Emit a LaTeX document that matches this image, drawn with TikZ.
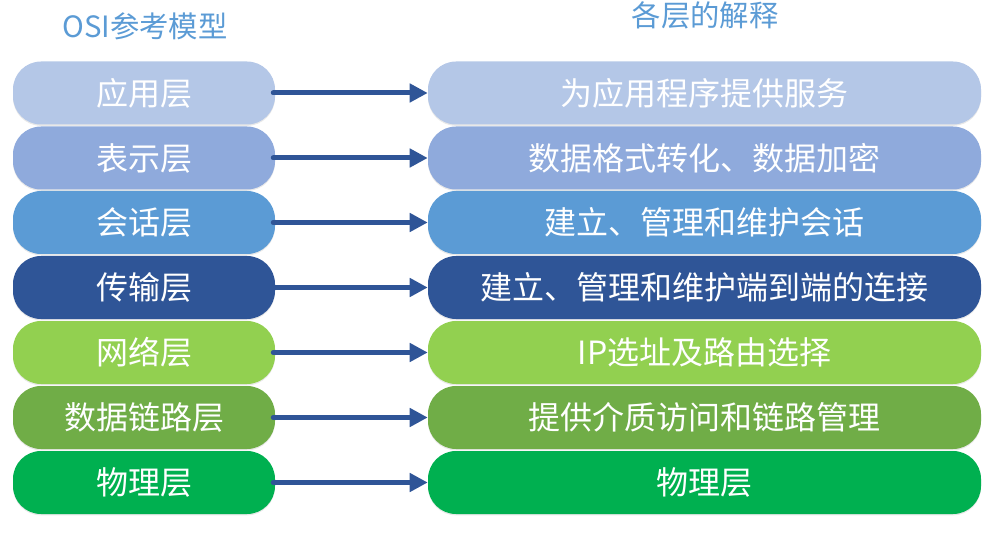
\documentclass[tikz,border=0pt]{standalone}
\usepackage{fontspec}
\setmainfont{Noto Sans CJK SC}
\usetikzlibrary{arrows.meta,shadows}

\definecolor{layerA}{RGB}{180,199,231}
\definecolor{layerB}{RGB}{143,170,220}
\definecolor{layerC}{RGB}{91,155,213}
\definecolor{layerD}{RGB}{47,85,151}
\definecolor{layerE}{RGB}{146,208,80}
\definecolor{layerF}{RGB}{112,173,71}
\definecolor{layerG}{RGB}{0,176,80}
\definecolor{titleblue}{RGB}{91,155,213}

\tikzset{
  layerbox/.style={rounded corners=21pt, minimum height=47.25pt, inner sep=0pt,
    text=white, font=\fontsize{24}{28}\selectfont,
    drop shadow={opacity=0.18, shadow xshift=0pt, shadow yshift=-1pt}},
  leftbox/.style={layerbox, minimum width=196.5pt},
  rightbox/.style={layerbox, minimum width=414.75pt},
  maparrow/.style={color=layerD, line width=3.75pt, line cap=round,
    -{Triangle[length=13.5pt,width=13.5pt]}},
  headtext/.style={text=titleblue, font=\fontsize{22}{26}\selectfont, inner sep=0pt}
}

\begin{document}
\begin{tikzpicture}[x=0.75pt,y=0.75pt,yscale=-1,xscale=1]
\useasboundingbox (0,0) rectangle (995,538);

% Titles
\node [headtext] (titleL) at (145,26) {OSI参考模型};
\node [headtext] (titleR) at (705,15) {各层的解释};

% Layers and their meanings
\foreach \n/\c/\y/\lt/\rt in {
    1/layerA/93/应用层/为应用程序提供服务,
    2/layerB/158/表示层/数据格式转化、数据加密,
    3/layerC/222.5/会话层/建立、管理和维护会话,
    4/layerD/287.5/传输层/建立、管理和维护端到端的连接,
    5/layerE/352.5/网络层/IP选址及路由选择,
    6/layerF/417.5/数据链路层/提供介质访问和链路管理,
    7/layerG/482.5/物理层/物理层} {
  \node [leftbox, fill=\c] (L\n) at (144,\y) {\lt};
  \node [rightbox, fill=\c] (R\n) at (704.5,\y) {\rt};
  \draw [maparrow] ([xshift=-1.5pt]L\n.east) -- (R\n.west);
}

\end{tikzpicture}
\end{document}
